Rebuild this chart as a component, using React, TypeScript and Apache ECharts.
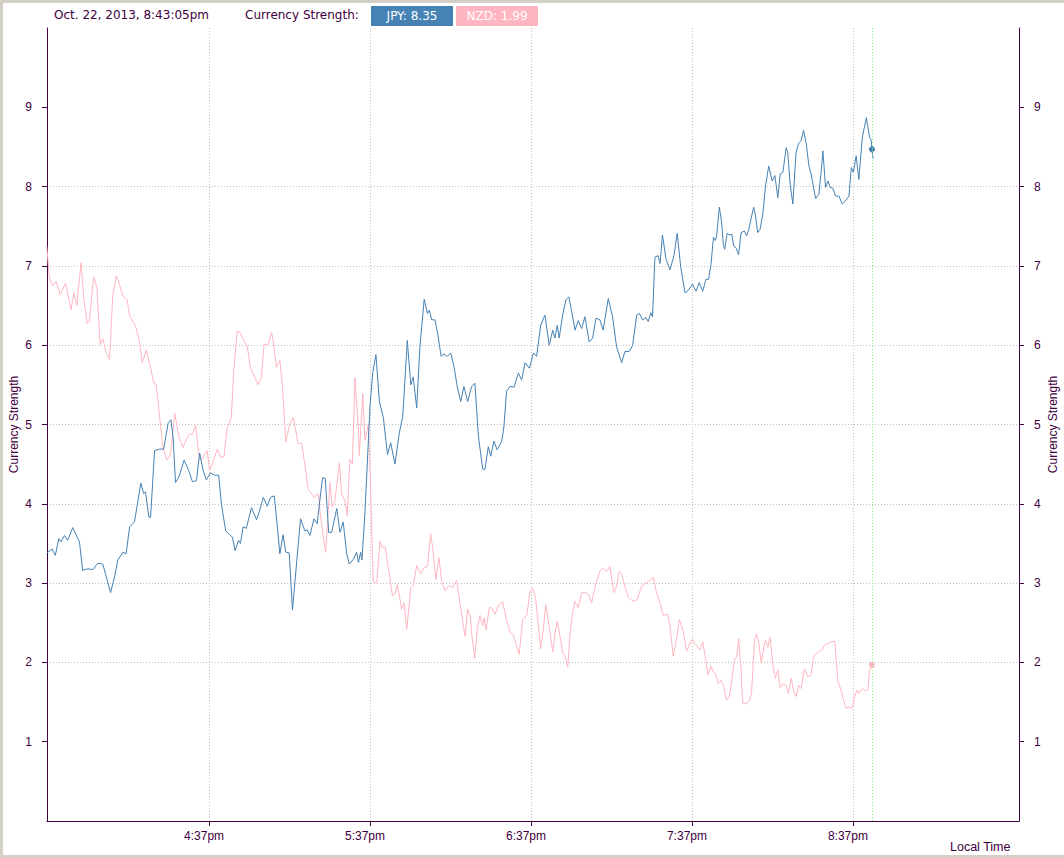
import React, { useEffect, useRef } from "react";
import * as echarts from "echarts";

// Minutes relative to 4:37pm
const tickMinutes = [0, 60, 120, 180, 240];
const tickLabels = ["4:37pm", "5:37pm", "6:37pm", "7:37pm", "8:37pm"];
const yTicks = [1, 2, 3, 4, 5, 6, 7, 8, 9];

const jpyMinutes = [
  -60.5, -58.5, -57.3, -56.0, -55.2, -53.9, -52.7, -50.8, -48.9, -48.3, -47.1, -45.2, -43.3, -41.5, -39.6, -38.3,
  -36.7, -35.2, -34.0, -32.1, -30.9, -29.6, -27.8, -26.5, -25.4, -24.4, -23.7, -22.4, -21.8, -20.3, -18.4, -16.9,
  -15.3, -14.2, -13.4, -12.5, -11.2, -9.3, -7.6, -6.2, -4.7, -3.5, -2.2, -1.0, 0.5, 2.1, 3.6, 4.6, 6.2, 7.7, 8.7,
  9.7, 11.0, 11.7, 12.7, 13.9, 15.8, 17.7, 18.9, 20.2, 21.7, 22.9, 24.3, 25.4, 26.4, 27.6, 28.6, 29.9, 31.1, 32.6,
  34.1, 35.7, 36.6, 37.6, 39.1, 40.3, 42.3, 43.3, 44.6, 45.7, 47.6, 48.8, 50.0, 51.3, 52.3, 53.8, 55.0, 55.7, 56.5,
  57.0, 58.1,
  60.0, 61.0, 62.2, 63.5, 65.0, 66.5, 67.7, 69.3, 70.9, 72.2, 73.9, 75.2, 76.1, 77.4, 78.6, 80.2, 81.4, 82.1, 83.0,
  84.2, 85.2, 86.5, 87.6, 88.8, 90.1, 91.3, 92.5, 93.8, 95.0, 96.4, 97.9, 99.1, 100.4, 102.0, 102.8, 104.1, 105.0,
  106.2, 107.4, 109.1, 109.9, 110.9, 112.2, 113.7, 115.3, 116.5, 117.8, 119.4, 120.9, 122.1, 123.6, 125.2, 126.8,
  128.1, 128.9, 129.8, 130.5, 131.8, 133.0, 134.1, 135.1, 136.4, 137.6, 138.9, 140.1, 141.7, 143.0, 144.2, 145.7,
  146.9, 148.8, 150.4, 151.9, 153.8, 155.0, 156.6, 157.9, 159.4, 160.4, 161.6, 162.8, 163.7, 164.7, 165.3, 166.2,
  167.4, 168.1, 169.0, 170.3, 171.8, 173.3, 174.5, 175.8, 177.4, 178.6,
  180.2, 181.5, 182.7, 184.0, 185.2, 186.2, 187.1, 188.0, 188.7, 189.2, 190.2, 191.0, 191.7, 192.2, 193.1, 193.9,
  194.8, 195.6, 196.4, 197.4, 198.3, 199.5, 200.4, 201.2, 202.0, 203.0, 203.7, 204.5, 205.4, 206.4, 207.4, 208.6,
  209.9, 210.9, 212.0, 212.9, 213.9, 215.1, 215.7, 216.6, 217.6, 218.8, 219.8, 220.7, 221.6, 222.6, 223.6, 224.4,
  226.1, 227.3, 228.2, 228.8, 229.8, 230.7, 231.5, 232.5, 233.5, 234.8, 236.0, 237.5, 238.5, 239.4, 240.2, 241.2,
  242.2, 243.5, 245.0, 246.2, 246.8, 247.1, 247.5,
];
const jpyValues = [
  3.38, 3.43, 3.35, 3.56, 3.52, 3.6, 3.54, 3.7, 3.56, 3.52, 3.16, 3.18, 3.17, 3.25, 3.24, 3.08,
  2.88, 3.08, 3.29, 3.39, 3.37, 3.71, 3.77, 4.04, 4.26, 4.13, 4.15, 3.83, 3.83, 4.67, 4.69, 4.69,
  5.01, 5.06, 4.84, 4.27, 4.34, 4.55, 4.42, 4.28, 4.29, 4.64, 4.42, 4.3, 4.39, 4.36, 4.36, 4.0, 3.66, 3.61, 3.58,
  3.41, 3.54, 3.5, 3.71, 3.69, 3.95, 3.8, 3.92, 4.08, 3.97, 4.08, 4.1, 3.73, 3.37, 3.61, 3.39, 3.38, 2.66, 3.24,
  3.81, 3.66, 3.67, 3.6, 3.81, 3.75, 4.33, 4.32, 3.64, 3.64, 3.94, 3.64, 3.77, 3.37, 3.24, 3.3, 3.39, 3.26, 3.39,
  3.29, 3.88,
  5.23, 5.65, 5.88, 5.29, 5.08, 4.62, 4.77, 4.5, 4.89, 5.1, 6.06, 5.5, 5.6, 5.21, 5.98, 6.58, 6.4, 6.44, 6.32,
  6.32, 6.15, 5.86, 5.89, 5.86, 5.9, 5.73, 5.48, 5.29, 5.48, 5.29, 5.48, 5.52, 4.85, 4.44, 4.43, 4.72, 4.6,
  4.79, 4.68, 4.79, 4.97, 5.42, 5.48, 5.47, 5.65, 5.56, 5.78, 5.71, 5.9, 5.86, 6.25, 6.38, 6.0,
  6.19, 6.09, 6.25, 6.09, 6.38, 6.57, 6.61, 6.44, 6.19, 6.31, 6.21, 6.36, 6.04, 6.09, 6.34, 6.32,
  6.19, 6.59, 6.36, 5.98, 5.78, 5.92, 5.92, 6.0, 6.38, 6.4, 6.32, 6.35, 6.3, 6.41, 6.36, 7.11,
  7.13, 7.03, 7.39, 7.09, 6.95, 7.13, 7.41, 6.99, 6.66, 6.69,
  6.77, 6.68, 6.79, 6.68, 6.83, 6.83, 7.02, 7.36, 7.32, 7.38, 7.74, 7.57, 7.27, 7.21, 7.41, 7.39,
  7.4, 7.25, 7.23, 7.14, 7.42, 7.44, 7.38, 7.46, 7.59, 7.74, 7.63, 7.42, 7.46, 7.65, 8.0, 8.26,
  8.07, 8.14, 7.86, 8.16, 8.18, 8.49, 8.43, 8.03, 7.78, 8.43, 8.55, 8.58, 8.71, 8.54, 8.26, 8.16,
  7.85, 7.9, 8.2, 8.45, 7.99, 8.07, 7.99, 7.98, 7.88, 7.88, 7.78, 7.83, 7.88, 8.24, 8.18, 8.39,
  8.09, 8.62, 8.87, 8.62, 8.59, 8.47, 8.35,
];

const nzdMinutes = [
  -60.5, -59.5, -58.3, -57.0, -55.5, -53.5, -51.4, -50.4, -49.3, -47.7, -46.7, -45.4, -44.6, -43.0, -41.8, -40.6,
  -39.6, -38.3, -37.1, -35.9, -34.6, -33.4, -32.1, -30.6, -29.6, -28.4, -27.4, -25.9, -24.9, -23.4, -22.2, -20.5,
  -19.7, -18.4, -17.2, -15.7, -14.4, -12.8, -11.2, -9.7, -8.1, -7.2, -6.2, -5.0, -3.7, -2.9, -1.6, -0.7, 0.2, 1.2,
  3.1, 4.4, 5.6, 6.7, 8.3, 9.2, 10.5, 11.5, 12.9, 14.2, 15.4, 17.1, 18.3, 19.5, 20.5, 22.0, 23.3, 23.9, 25.1, 26.4,
  27.4, 28.6, 30.1, 31.4, 33.2, 34.5, 35.7, 37.0, 38.2, 39.1, 40.7, 41.3, 42.6, 43.5, 44.1, 45.1, 45.9, 46.9, 48.6,
  49.4, 50.7, 51.5, 52.5, 53.4, 54.4, 55.7, 56.0, 57.3, 58.1, 59.4, 60.0,
  61.2, 62.5, 63.7, 64.7, 65.6, 66.8, 68.4, 69.3, 70.2, 71.8, 72.7, 73.7, 75.2, 76.1, 77.4, 78.9, 80.1, 81.4,
  82.6, 83.6, 84.5, 85.7, 86.7, 87.9, 89.2, 90.8, 92.3, 93.5, 95.4, 96.4, 97.3, 98.0, 99.0, 100.0, 101.0, 102.0,
  102.5, 103.2, 104.5, 105.3, 106.6, 107.8, 109.4, 110.7, 112.2, 113.4, 114.4, 115.6, 116.9, 118.4, 119.6, 120.6,
  121.7, 122.5, 123.6, 124.6, 125.5, 126.4, 128.1, 128.9, 129.8, 130.8, 131.8, 132.7, 133.7, 134.5, 135.5, 136.4,
  137.6, 138.9, 140.1, 141.4, 142.6, 144.2, 145.7, 146.9, 148.2, 149.4, 150.9, 151.9, 152.9, 153.8, 155.0, 156.3,
  158.1, 159.6, 161.2, 162.8, 164.1, 165.6, 166.8, 168.1, 169.3, 170.9, 171.8, 173.0, 174.0, 175.3, 176.7, 178.0,
  179.5,
  180.2, 181.5, 183.0, 184.0, 185.0, 186.0, 187.1, 188.0, 188.7, 189.8, 190.8, 191.7, 192.9, 193.9, 194.9, 195.8,
  196.7, 197.4, 198.3, 198.9, 200.2, 201.4, 202.2, 203.3, 204.1, 205.1, 205.8, 206.4, 207.4, 208.3, 209.1, 210.1,
  211.1, 212.0, 212.9, 213.9, 215.1, 216.0, 217.0, 217.8, 218.8, 219.8, 220.7, 221.9, 223.2, 224.4, 225.3, 226.3,
  227.6, 228.5, 229.4, 230.7, 231.9, 233.2, 234.4, 235.6, 236.5, 237.5, 238.5, 239.4, 240.0, 240.6, 241.5, 242.2,
  243.5, 244.7, 245.6, 246.2, 247.1,
];
const nzdValues = [
  7.25, 6.85, 6.75, 6.8, 6.64, 6.78, 6.45, 6.66, 6.5, 7.04, 6.6, 6.27, 6.31, 6.86, 6.73, 6.01,
  6.08, 5.91, 5.82, 6.62, 6.87, 6.77, 6.62, 6.58, 6.37, 6.3, 6.24, 6.05, 5.78, 5.94, 5.78, 5.51,
  5.51, 5.09, 4.71, 4.55, 4.62, 5.14, 4.84, 4.71, 4.84, 4.88, 4.87, 4.99, 4.59, 4.55, 4.62, 4.67, 4.42, 4.5,
  4.69, 4.58, 4.6, 4.95, 5.09, 5.68, 6.18, 6.16, 6.06, 5.99, 5.72, 5.59, 5.5, 5.59, 6.01, 6.01, 6.16, 6.06, 5.72, 5.81,
  5.47, 4.78, 5.01, 5.09, 4.76, 4.76, 4.5, 4.17, 4.13, 4.08, 4.13, 3.92, 3.58, 3.39, 3.75, 4.27, 3.96, 4.03, 4.52,
  4.13, 4.03, 3.85, 4.56, 4.5, 5.59, 4.92, 4.61, 5.39, 4.8, 5.01, 4.42,
  3.02, 3.0, 3.53, 3.44, 3.46, 3.19, 2.84, 2.86, 2.98, 2.67, 2.75, 2.42, 2.94, 2.97, 3.22, 3.12, 3.19, 3.21,
  3.62, 3.38, 3.04, 3.32, 3.03, 2.9, 2.96, 2.95, 3.03, 2.75, 2.33, 2.67, 2.59, 2.33, 2.05, 2.42, 2.59, 2.46,
  2.56, 2.41, 2.69, 2.69, 2.61, 2.71, 2.77, 2.56, 2.38, 2.35, 2.23, 2.1, 2.54, 2.59, 2.88, 2.94,
  2.82, 2.54, 2.17, 2.42, 2.73, 2.54, 2.13, 2.35, 2.52, 2.33, 2.12, 2.08, 1.94, 2.33, 2.63, 2.77,
  2.69, 2.88, 2.88, 2.86, 2.75, 3.0, 3.15, 3.19, 3.15, 3.21, 2.88, 2.96, 3.15, 3.12, 2.96, 2.82,
  2.77, 2.79, 2.96, 3.0, 3.03, 3.07, 2.88, 2.75, 2.59, 2.61, 2.46, 2.08, 2.25, 2.54, 2.4, 2.14,
  2.26,
  2.29, 2.22, 2.16, 2.26, 2.07, 1.84, 1.95, 1.88, 1.86, 1.73, 1.78, 1.71, 1.52, 1.57, 1.78, 2.03,
  2.07, 2.3, 1.9, 1.48, 1.48, 1.52, 1.61, 2.28, 2.36, 2.2, 1.99, 2.11, 2.28, 2.19, 2.32, 1.99,
  1.8, 1.9, 1.68, 1.73, 1.71, 1.61, 1.8, 1.65, 1.57, 1.71, 1.67, 1.92, 1.82, 1.84, 2.07, 2.11,
  2.14, 2.16, 2.22, 2.24, 2.26, 2.27, 1.76, 1.65, 1.52, 1.42, 1.44, 1.42, 1.46, 1.57, 1.65, 1.61,
  1.67, 1.64, 1.65, 1.9, 1.97,
];

const nowMinute = 247.1;
const jpyDot = [247.1, 8.47];
const nzdDot = [247.1, 1.97];
const headerDate = "Oct. 22, 2013, 8:43:05pm";
const headerTitle = "Currency Strength:";
const jpyLabel = "JPY: 8.35";
const nzdLabel = "NZD: 1.99";

const BLUE = "#4682B4";
const PINK = "#FFB6C1";
const AX = "#400040";
const FONT = "Liberation Sans, Arial, sans-serif";
const HFONT = "DejaVu Sans, sans-serif";
const GRID = "#c0c0c0";

function zip(xs: number[], ys: number[]) {
  return xs.map((x, i) => [x, ys[i]]);
}

export default function App() {
  const ref = useRef<HTMLDivElement>(null);
  useEffect(() => {
    if (!ref.current) return;
    const chart = echarts.init(ref.current, undefined, { renderer: "svg" });
    const yAxisBase = (pos: "left" | "right", split: boolean, gap: number) => ({
      type: "value",
      position: pos,
      min: 0,
      max: 10,
      interval: 1,
      name: "Currency Strength",
      nameLocation: "middle",
      nameGap: gap,
      nameMoveOverlap: false,
      nameTextStyle: { color: AX, fontSize: 12, fontFamily: FONT },
      axisLine: { show: true, onZero: false, lineStyle: { color: AX, width: 1 } },
      axisTick: { show: true, length: 5, customValues: yTicks, lineStyle: { color: AX } },
      axisLabel: { customValues: yTicks, color: AX, fontSize: 12, fontFamily: FONT, margin: 15 },
      splitLine: split
        ? { show: true, showMinLine: false, showMaxLine: false, lineStyle: { color: GRID, type: [1, 2], width: 1 } }
        : { show: false },
    });
    chart.setOption({
      animation: false,
      grid: { left: 47, right: 45, top: 28, bottom: 37, containLabel: false, outerBoundsMode: "none" },
      xAxis: {
        type: "value",
        min: -60.4,
        max: 301.9,
        axisLine: { show: true, onZero: false, lineStyle: { color: AX, width: 1 } },
        axisTick: { show: true, length: 5, customValues: tickMinutes, lineStyle: { color: AX } },
        axisLabel: {
          customValues: tickMinutes,
          formatter: (v: number) => {
            const i = tickMinutes.indexOf(Math.round(v));
            return i >= 0 ? tickLabels[i] : "";
          },
          color: AX,
          fontSize: 12,
          fontFamily: FONT,
          margin: 9,
          padding: [0, 10, 0, 0],
        },
        splitLine: { show: true, lineStyle: { color: GRID, type: [1, 2], width: 1 } },
      },
      yAxis: [yAxisBase("left", true, 27), yAxisBase("right", false, 28)],
      series: [
        {
          type: "line",
          name: "NZD",
          data: zip(nzdMinutes, nzdValues),
          showSymbol: false,
          lineStyle: { color: PINK, width: 1 },
          itemStyle: { color: PINK },
          silent: true,
        },
        {
          type: "line",
          name: "JPY",
          data: zip(jpyMinutes, jpyValues),
          showSymbol: false,
          lineStyle: { color: BLUE, width: 1 },
          itemStyle: { color: BLUE },
          silent: true,
          markLine: {
            silent: true,
            symbol: "none",
            label: { show: false },
            lineStyle: { color: "#80F080", type: [1, 2], width: 1 },
            data: [{ xAxis: nowMinute }],
          },
        },
        {
          type: "scatter",
          data: [jpyDot],
          symbolSize: 6,
          itemStyle: { color: BLUE, opacity: 1 },
          silent: true,
        },
        {
          type: "scatter",
          data: [nzdDot],
          symbolSize: 6,
          itemStyle: { color: PINK, opacity: 1 },
          silent: true,
        },
      ],
      graphic: [
        {
          type: "text",
          left: 54,
          top: 9,
          style: { text: headerDate, fill: AX, font: `12px ${HFONT}` },
        },
        {
          type: "text",
          left: 245,
          top: 9,
          style: { text: headerTitle, fill: AX, font: `12px ${HFONT}` },
        },
        {
          type: "group",
          left: 371,
          top: 6,
          children: [
            { type: "rect", shape: { x: 0, y: 0, width: 82, height: 20 }, style: { fill: BLUE } },
            {
              type: "text",
              x: 41,
              y: 10,
              style: { text: jpyLabel, fill: "#ffffff", font: `12px ${HFONT}`, align: "center", verticalAlign: "middle" },
            },
          ],
        },
        {
          type: "group",
          left: 456,
          top: 6,
          children: [
            { type: "rect", shape: { x: 0, y: 0, width: 82, height: 20 }, style: { fill: PINK } },
            {
              type: "text",
              x: 41,
              y: 10,
              style: { text: nzdLabel, fill: "#ffffff", font: `12px ${HFONT}`, align: "center", verticalAlign: "middle" },
            },
          ],
        },
        {
          type: "text",
          left: 950,
          top: 840,
          style: { text: "Local Time", fill: AX, font: `12.5px ${FONT}` },
        },
      ],
    });
    return () => chart.dispose();
  }, []);

  return (
    <div
      style={{
        position: "fixed",
        left: 0,
        top: 0,
        width: 1064,
        height: 858,
        background: "#d4d0c8",
      }}
    >
      <div
        style={{
          position: "absolute",
          left: 3,
          top: 3,
          width: 1061,
          height: 852,
          background: "#ffffff",
        }}
      />
      <div ref={ref} style={{ position: "absolute", left: 0, top: 0, width: 1064, height: 858 }} />
    </div>
  );
}
